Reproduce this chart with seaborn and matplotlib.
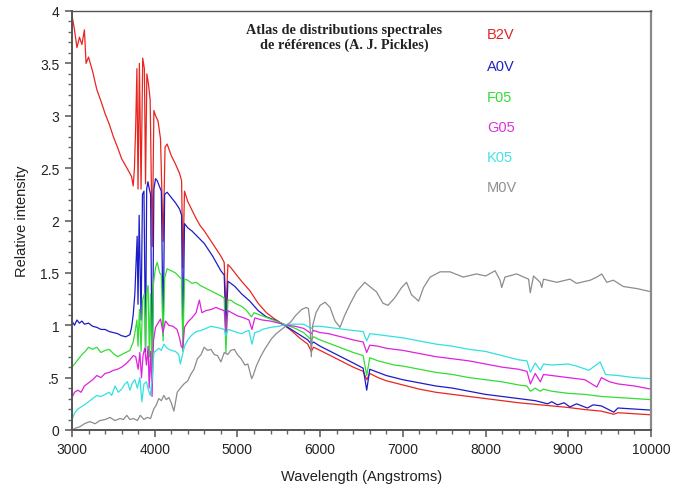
import matplotlib
matplotlib.use("Agg")
import matplotlib.pyplot as plt
import pandas as pd
import seaborn as sns
from matplotlib.ticker import MultipleLocator

# ---------------- data ----------------
stars = ["B2V", "A0V", "F05", "G05", "K05", "M0V"]
line_colors = ["#e8261f", "#1c1cc8", "#33dd33", "#dd22dd", "#33e0e0", "#8c8c8c"]
label_colors = ["#e02424", "#2424c0", "#33dd33", "#dd33dd", "#44e4e4", "#909090"]

b2v_wl = [3000,3030,3060,3090,3120,3150,3170,3200,3250,3300,3350,3400,3450,3500,3550,3600,3650,3700,
          3720,3740,3755,3770,3785,3798,3815,3835,3855,3875,3889,3905,3925,3945,3970,3990,4010,4040,4070,4102,
          4125,4150,4200,4250,4300,4325,4340,4360,4400,4450,4500,4550,4600,4650,4700,4750,4800,4840,4861,4885,
          4920,4970,5050,5150,5250,5350,5450,5550,5650,5750,5850,5893,5920,6000,6100,6200,6300,6400,6520,6563,
          6600,6700,6800,6900,7000,7200,7400,7600,7800,8000,8200,8400,8600,8800,9000,9200,9400,9550,9600,9800,10000]
b2v_flux = [3.96,3.82,3.65,3.75,3.68,3.82,3.50,3.56,3.42,3.25,3.14,3.02,2.92,2.80,2.70,2.59,2.52,2.45,
            2.42,2.33,2.50,2.90,3.45,2.30,3.50,2.30,3.55,3.45,2.35,3.40,3.30,3.15,1.75,3.05,3.00,2.95,2.78,1.80,
            2.70,2.73,2.62,2.54,2.45,2.38,1.55,2.28,2.18,2.10,2.02,1.95,1.90,1.84,1.78,1.72,1.66,1.60,1.15,1.58,
            1.55,1.50,1.42,1.33,1.21,1.12,1.06,1.01,0.95,0.88,0.82,0.75,0.79,0.76,0.72,0.68,0.64,0.60,0.56,0.48,
            0.54,0.50,0.47,0.45,0.43,0.39,0.36,0.34,0.32,0.30,0.28,0.26,0.245,0.23,0.215,0.195,0.18,0.15,0.165,0.155,0.145]

a0v_wl = [3000,3030,3060,3090,3120,3150,3200,3250,3300,3350,3400,3450,3500,3550,3600,3650,3700,3720,3740,3760,
          3775,3788,3798,3812,3835,3852,3870,3889,3903,3918,3935,3950,3970,3990,4010,4030,4060,4080,4102,4120,
          4150,4200,4250,4300,4325,4340,4360,4400,4450,4500,4550,4600,4650,4700,4750,4800,4840,4861,4885,4920,
          4970,5050,5150,5250,5350,5450,5550,5650,5750,5850,5893,5920,6000,6100,6200,6300,6400,6520,6563,6600,
          6700,6800,6900,7000,7200,7400,7600,7800,8000,8200,8400,8600,8750,8800,8870,8950,9020,9100,9230,9300,
          9400,9550,9600,9800,10000]
a0v_flux = [1.04,1.00,1.05,1.02,1.04,1.01,1.02,0.99,0.98,0.96,0.96,0.94,0.93,0.92,0.90,0.89,0.91,0.98,1.10,1.30,
            1.60,1.85,1.20,2.05,1.05,2.25,2.28,0.75,2.30,2.37,2.30,2.25,0.45,2.30,2.40,2.38,2.32,2.28,0.90,2.25,
            2.27,2.22,2.17,2.11,2.05,0.80,1.97,1.93,1.90,1.86,1.82,1.78,1.72,1.66,1.59,1.52,1.48,0.95,1.42,1.40,
            1.37,1.30,1.23,1.14,1.08,1.05,1.01,0.96,0.91,0.86,0.82,0.84,0.80,0.76,0.72,0.68,0.64,0.59,0.38,0.58,
            0.55,0.52,0.50,0.48,0.45,0.42,0.40,0.37,0.34,0.32,0.30,0.28,0.25,0.27,0.24,0.26,0.22,0.25,0.21,0.24,
            0.23,0.17,0.21,0.20,0.19]

f05_wl = [3000,3040,3080,3120,3160,3200,3250,3300,3350,3400,3450,3500,3550,3600,3650,3700,3740,3765,3785,3798,
          3815,3835,3855,3875,3889,3905,3920,3935,3950,3968,3985,4010,4030,4060,4080,4102,4120,4150,4200,4250,
          4300,4325,4340,4360,4400,4450,4500,4550,4600,4650,4700,4750,4800,4840,4861,4885,4920,4970,5050,5100,
          5170,5200,5300,5400,5500,5600,5700,5800,5893,5920,6000,6100,6200,6300,6400,6520,6563,6600,6700,6800,
          6900,7000,7200,7400,7600,7800,8000,8200,8400,8500,8542,8600,8662,8700,8800,9000,9200,9400,9600,9800,
          10000]
f05_flux = [0.60,0.64,0.68,0.72,0.75,0.79,0.77,0.79,0.74,0.76,0.77,0.73,0.70,0.72,0.74,0.76,0.84,0.95,1.05,0.80,
            1.15,0.75,1.25,1.30,0.78,1.32,1.38,0.70,1.30,0.42,1.40,1.55,1.60,1.50,1.48,0.85,1.45,1.54,1.52,1.50,
            1.46,1.44,0.75,1.44,1.43,1.40,1.41,1.38,1.36,1.34,1.32,1.30,1.28,1.26,0.74,1.24,1.24,1.21,1.18,1.15,
            1.08,1.12,1.09,1.06,1.03,1.00,0.97,0.93,0.86,0.89,0.86,0.83,0.80,0.77,0.74,0.71,0.52,0.69,0.66,0.64,
            0.62,0.61,0.58,0.55,0.53,0.50,0.48,0.46,0.43,0.42,0.37,0.40,0.37,0.39,0.37,0.35,0.34,0.32,0.31,0.30,
            0.29]

g05_wl = [3000,3030,3070,3110,3150,3200,3250,3300,3350,3400,3450,3500,3550,3600,3650,3700,3740,3770,3800,3820,
          3840,3860,3880,3900,3920,3933,3950,3968,3985,4010,4040,4070,4100,4130,4170,4220,4270,4300,4320,4340,
          4360,4400,4450,4500,4540,4570,4620,4680,4740,4800,4840,4861,4885,4930,5000,5080,5140,5175,5210,5300,
          5400,5500,5600,5700,5800,5893,5920,6000,6100,6200,6300,6400,6520,6563,6600,6700,6800,6900,7000,7200,
          7400,7600,7800,8000,8200,8400,8500,8542,8600,8662,8700,8800,9000,9200,9345,9400,9500,9600,9800,10000]
g05_flux = [0.31,0.36,0.38,0.36,0.42,0.45,0.48,0.52,0.50,0.54,0.55,0.57,0.58,0.60,0.63,0.67,0.71,0.70,0.58,0.74,
            0.50,0.72,0.78,0.62,0.80,0.40,0.75,0.32,0.85,0.98,1.02,1.06,0.93,1.04,1.00,0.99,0.96,0.88,0.80,0.78,
            0.98,1.03,1.07,1.12,1.24,1.12,1.14,1.15,1.17,1.15,1.14,0.93,1.14,1.12,1.09,1.07,1.05,0.96,1.07,1.05,
            1.04,1.02,1.00,0.99,0.97,0.92,0.95,0.93,0.92,0.90,0.88,0.86,0.84,0.74,0.81,0.80,0.78,0.77,0.76,0.73,
            0.70,0.68,0.66,0.63,0.60,0.58,0.56,0.44,0.54,0.46,0.53,0.52,0.50,0.48,0.41,0.50,0.46,0.44,0.42,0.39]

k05_wl = [3000,3030,3070,3110,3150,3200,3250,3300,3350,3400,3450,3480,3520,3560,3600,3640,3670,3700,3730,3760,
          3790,3820,3845,3870,3900,3925,3947,3970,3990,4020,4050,4080,4110,4150,4200,4250,4290,4310,4330,4360,
          4400,4440,4500,4560,4620,4680,4740,4800,4840,4861,4885,4930,5000,5050,5100,5140,5175,5210,5260,5300,
          5400,5500,5600,5700,5800,5893,5920,6000,6100,6200,6300,6400,6520,6563,6600,6700,6800,6900,7000,7200,
          7400,7600,7800,8000,8200,8400,8500,8542,8600,8662,8700,8800,9000,9100,9250,9385,9450,9600,9800,10000]
k05_flux = [0.10,0.16,0.20,0.22,0.24,0.27,0.30,0.33,0.32,0.34,0.36,0.33,0.42,0.36,0.39,0.44,0.46,0.38,0.45,0.48,
            0.40,0.50,0.27,0.44,0.46,0.38,0.33,0.50,0.74,0.76,0.78,0.76,0.82,0.78,0.76,0.75,0.72,0.63,0.70,0.80,
            0.86,0.90,0.94,0.95,0.97,0.99,0.98,0.97,0.96,0.90,0.96,0.95,0.93,0.92,0.94,0.95,0.82,0.93,0.94,0.96,
            0.98,0.99,1.01,1.01,1.01,0.97,0.99,0.99,0.98,0.97,0.96,0.95,0.94,0.85,0.92,0.91,0.90,0.89,0.88,0.85,
            0.82,0.80,0.77,0.75,0.71,0.67,0.66,0.55,0.64,0.57,0.63,0.62,0.63,0.61,0.57,0.65,0.53,0.52,0.50,0.49]

m0v_wl = [3000,3050,3093,3150,3215,3280,3337,3400,3459,3520,3581,3620,3663,3700,3744,3790,3825,3870,3906,3950,
          3988,4020,4049,4080,4110,4140,4171,4200,4232,4272,4310,4354,4400,4435,4475,4516,4560,4598,4640,4679,
          4720,4760,4800,4841,4882,4920,4963,5000,5045,5090,5126,5172,5190,5228,5280,5329,5370,5411,5470,5533,
          5600,5654,5700,5776,5830,5858,5875,5893,5910,5950,6000,6060,6120,6180,6240,6300,6360,6440,6540,6600,
          6680,6760,6820,6900,6985,7045,7105,7150,7190,7250,7330,7450,7570,7730,7890,8000,8115,8175,8195,8235,
          8375,8520,8540,8580,8660,8680,8700,8860,9020,9100,9265,9345,9405,9465,9545,9665,9830,10000]
m0v_flux = [0.00,0.02,0.03,0.06,0.08,0.06,0.09,0.10,0.12,0.09,0.11,0.10,0.14,0.10,0.11,0.09,0.14,0.10,0.12,0.11,
            0.20,0.24,0.30,0.28,0.33,0.29,0.31,0.26,0.18,0.36,0.40,0.44,0.47,0.53,0.58,0.68,0.72,0.79,0.76,0.77,
            0.72,0.71,0.65,0.74,0.72,0.76,0.77,0.72,0.68,0.62,0.63,0.49,0.52,0.61,0.70,0.77,0.82,0.87,0.92,0.96,
            1.00,1.04,1.09,1.15,1.17,1.16,1.05,0.70,1.00,1.12,1.19,1.22,1.17,1.04,0.98,1.10,1.20,1.32,1.41,1.37,
            1.32,1.21,1.19,1.26,1.36,1.41,1.29,1.26,1.23,1.36,1.46,1.51,1.51,1.46,1.49,1.47,1.52,1.43,1.36,1.46,
            1.49,1.44,1.31,1.47,1.41,1.36,1.44,1.41,1.44,1.40,1.43,1.46,1.49,1.41,1.43,1.37,1.35,1.32]

x_ticks = [3000, 4000, 5000, 6000, 7000, 8000, 9000, 10000]
y_ticks = [0, 0.5, 1, 1.5, 2, 2.5, 3, 3.5, 4]
y_tick_labels = ["0", ".5", "1", "1.5", "2", "2.5", "3", "3.5", "4"]

title_text = "Atlas de distributions spectrales\nde références (A. J. Pickles)"

# ---------------- figure ----------------
sns.set_style("white")
plt.rcParams['font.family'] = ['Liberation Sans', 'DejaVu Sans']

series = [(stars[0], b2v_wl, b2v_flux), (stars[1], a0v_wl, a0v_flux), (stars[2], f05_wl, f05_flux),
          (stars[3], g05_wl, g05_flux), (stars[4], k05_wl, k05_flux), (stars[5], m0v_wl, m0v_flux)]
df = pd.concat([pd.DataFrame({"wl": w, "flux": f, "star": n}) for n, w, f in series], ignore_index=True)

fig = plt.figure(figsize=(6.86, 4.85), dpi=100)
ax = fig.add_axes([72/686, 54/485, 579/686, 419/485])

sns.lineplot(data=df, x="wl", y="flux", hue="star", hue_order=stars,
             palette=dict(zip(stars, line_colors)), estimator=None, legend=False,
             linewidth=0.9, ax=ax)

ax.set_xlim(3000, 10000)
ax.set_ylim(0, 4)
ax.set_xticks(x_ticks)
ax.set_xticklabels([str(t) for t in x_ticks])
ax.set_yticks(y_ticks)
ax.set_yticklabels(y_tick_labels)
ax.xaxis.set_minor_locator(MultipleLocator(200))
ax.yaxis.set_minor_locator(MultipleLocator(0.1))
ax.tick_params(axis="both", which="major", direction="out", length=5, width=1.1,
               color="#555555", labelsize=10, labelcolor="#222222", pad=4,
               bottom=True, left=True, top=False, right=False)
ax.tick_params(axis="both", which="minor", direction="out", length=3, width=1.0,
               color="#666666", bottom=True, left=True, top=False, right=False)

for side, col, lw in [("left", "#555555", 1.4), ("bottom", "#555555", 1.4),
                      ("top", "#555555", 1.0), ("right", "#8a8a8a", 1.6)]:
    ax.spines[side].set_visible(True)
    ax.spines[side].set_color(col)
    ax.spines[side].set_linewidth(lw)

ax.set_xlabel("Wavelength (Angstroms)", fontsize=10.5, color="#222222", labelpad=9)
ax.set_ylabel("Relative intensity", fontsize=10.5, color="#222222", labelpad=8)

fig.text(344/686, 1 - 38/485, title_text, ha="center", va="center", fontsize=10.3,
         fontweight="bold", family=["Liberation Serif", "DejaVu Serif"], color="#222222",
         linespacing=1.2)

label_y = [35, 67, 98, 128, 158, 188]
for name, col, yy in zip(stars, label_colors, label_y):
    fig.text(487/686, 1 - yy/485, name, ha="left", va="center", fontsize=10.5, color=col)

fig.savefig("out.png", dpi=100)
